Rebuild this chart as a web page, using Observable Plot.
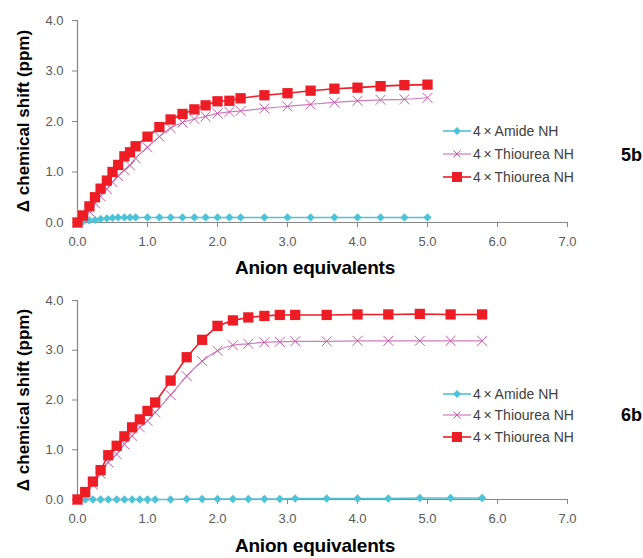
<!DOCTYPE html>
<html>
<head>
<meta charset="utf-8">
<script src="https://cdn.jsdelivr.net/npm/d3@7"></script>
<script src="https://cdn.jsdelivr.net/npm/@observablehq/plot@0.6"></script>
<style>
  body { margin: 0; background: #fff; font-family: "Liberation Sans", Arial, sans-serif; }
  #wrap { position: relative; width: 643px; height: 558px; overflow: hidden; }
  .panel { position: absolute; left: 0; width: 643px; height: 279px; }
  .xtitle { position: absolute; left: 0; width: 630px; text-align: center; font-weight: bold; font-size: 19px; line-height: 22px; color: #000; letter-spacing: -0.2px; }
  .ytitle { position: absolute; font-weight: bold; font-size: 17px; color: #000; white-space: nowrap; transform: translate(-50%, -50%) rotate(-90deg); }
  .legend { position: absolute; left: 443px; font-size: 14px; color: #404040; }
  .legend .row { display: flex; align-items: center; height: 23px; }
  .legend svg { display: block; margin-right: 0; }
  .tag { position: absolute; left: 621px; font-weight: bold; font-size: 18px; line-height: 20px; color: #000; }
</style>
</head>
<body>
<div id="wrap"></div>
<script>
// ---- data ----
const seriesNames = ["4\u2009\u00d7\u2009Amide NH", "4\u2009\u00d7\u2009Thiourea NH", "4\u2009\u00d7\u2009Thiourea NH"];
const xTicks = [0, 1, 2, 3, 4, 5, 6, 7];
const yTicks = [0, 1, 2, 3, 4];

// Panel 5b
const eq5 = [0, 0.08, 0.17, 0.25, 0.33, 0.42, 0.5, 0.58, 0.67, 0.75, 0.83, 1.0, 1.17, 1.33, 1.5, 1.67, 1.83, 2.0, 2.17, 2.33, 2.67, 3.0, 3.33, 3.67, 4.0, 4.33, 4.67, 5.0];
const amide5 = [0, 0.02, 0.04, 0.05, 0.07, 0.08, 0.09, 0.1, 0.1, 0.1, 0.1, 0.1, 0.1, 0.1, 0.1, 0.1, 0.1, 0.1, 0.1, 0.1, 0.1, 0.1, 0.1, 0.1, 0.1, 0.1, 0.1, 0.1];
const thioA5 = [0, 0.08, 0.22, 0.38, 0.52, 0.66, 0.80, 0.92, 1.04, 1.13, 1.27, 1.49, 1.70, 1.87, 1.98, 2.05, 2.10, 2.16, 2.19, 2.21, 2.26, 2.30, 2.34, 2.38, 2.41, 2.43, 2.44, 2.47];
const thioB5 = [0, 0.14, 0.32, 0.50, 0.67, 0.83, 1.0, 1.14, 1.31, 1.39, 1.51, 1.70, 1.89, 2.04, 2.15, 2.24, 2.32, 2.40, 2.41, 2.46, 2.52, 2.56, 2.61, 2.65, 2.67, 2.70, 2.72, 2.73];

// Panel 6b
const eq6 = [0, 0.11, 0.22, 0.33, 0.44, 0.56, 0.67, 0.78, 0.89, 1.0, 1.11, 1.33, 1.56, 1.78, 2.0, 2.22, 2.44, 2.67, 2.89, 3.11, 3.56, 4.0, 4.44, 4.89, 5.33, 5.78];
const amide6 = [0, 0, 0, 0, 0, 0, 0, 0, 0, 0, 0, 0, 0.01, 0.01, 0.01, 0.01, 0.01, 0.01, 0.01, 0.02, 0.02, 0.02, 0.02, 0.03, 0.03, 0.03];
const thioA6 = [0, 0.10, 0.30, 0.52, 0.75, 0.91, 1.11, 1.28, 1.45, 1.58, 1.75, 2.10, 2.48, 2.78, 2.99, 3.10, 3.13, 3.16, 3.17, 3.18, 3.18, 3.19, 3.19, 3.19, 3.19, 3.19];
const thioB6 = [0, 0.15, 0.36, 0.59, 0.89, 1.08, 1.27, 1.45, 1.61, 1.78, 1.95, 2.39, 2.86, 3.21, 3.49, 3.60, 3.66, 3.69, 3.71, 3.71, 3.71, 3.72, 3.72, 3.73, 3.72, 3.72];

// ---- styles ----
const CYAN = "#4cc3d6";
const MAG = "#c95aab";
const MAGLINE = "#d27cbd";
const RED = "#ee1c25";
const AXIS = "#868686";
const fmt = d3.format(".1f");

function chart(xs, amide, thioA, thioB, mt, mb) {
  const rows = xs.map((x, i) => ({x, a: amide[i], b: thioA[i], c: thioB[i]}));
  return Plot.plot({
    width: 643, height: 279,
    marginLeft: 77, marginRight: 76, marginTop: mt, marginBottom: mb,
    style: {fontFamily: "'Liberation Sans', Arial, sans-serif", fontSize: "13px", color: "#595959", background: "white", overflow: "visible"},
    x: {domain: [0, 7], label: null},
    y: {domain: [0, 4], label: null},
    marks: [
      Plot.axisX({ticks: xTicks, tickFormat: fmt, tickSize: 5, tickPadding: 9, stroke: AXIS, label: null}),
      Plot.axisY({ticks: yTicks, tickFormat: fmt, tickSize: 5, tickPadding: 9, stroke: AXIS, label: null}),
      Plot.ruleY([0], {stroke: AXIS, strokeWidth: 1.2}),
      Plot.ruleX([0], {stroke: AXIS, strokeWidth: 1.2}),
      Plot.line(rows, {x: "x", y: "a", stroke: CYAN, strokeWidth: 1.6}),
      Plot.dot(rows, {x: "x", y: "a", symbol: "square", rotate: 45, r: 3.3, fill: CYAN, stroke: "none"}),
      Plot.line(rows, {x: "x", y: "b", stroke: MAGLINE, strokeWidth: 1.2, curve: "monotone-x"}),
      Plot.dot(rows, {x: "x", y: "b", symbol: "times", r: 4.6, stroke: MAG, strokeWidth: 1, fill: "none"}),
      Plot.line(rows, {x: "x", y: "c", stroke: RED, strokeWidth: 1.6}),
      Plot.dot(rows, {x: "x", y: "c", symbol: "square", r: 5.8, fill: RED, stroke: "none"})
    ]
  });
}

function legendSvg(kind) {
  const ns = "http://www.w3.org/2000/svg";
  const s = document.createElementNS(ns, "svg");
  s.setAttribute("width", "30"); s.setAttribute("height", "12");
  const col = kind === 0 ? CYAN : kind === 1 ? MAGLINE : RED;
  const ln = document.createElementNS(ns, "line");
  ln.setAttribute("x1", "0"); ln.setAttribute("x2", "28"); ln.setAttribute("y1", "6"); ln.setAttribute("y2", "6");
  ln.setAttribute("stroke", col); ln.setAttribute("stroke-width", kind === 1 ? "1.2" : "1.6");
  s.appendChild(ln);
  const p = document.createElementNS(ns, "path");
  if (kind === 0) { p.setAttribute("d", "M14,2L18,6L14,10L10,6Z"); p.setAttribute("fill", CYAN); }
  else if (kind === 1) { p.setAttribute("d", "M10.5,2.5L17.5,9.5M17.5,2.5L10.5,9.5"); p.setAttribute("stroke", MAG); p.setAttribute("fill", "none"); }
  else { p.setAttribute("d", "M9,1H19V11H9Z"); p.setAttribute("fill", RED); }
  s.appendChild(p);
  return s;
}

function panel(top, plot, legendTop, rowH, tag, tagTop, xTitleTop, yCenter) {
  const wrap = document.getElementById("wrap");
  const div = document.createElement("div");
  div.className = "panel"; div.style.top = top + "px";
  div.appendChild(plot);
  wrap.appendChild(div);

  const lg = document.createElement("div");
  lg.className = "legend"; lg.style.top = legendTop + "px";
  seriesNames.forEach((name, i) => {
    const r = document.createElement("div"); r.className = "row"; r.style.height = rowH + "px";
    r.appendChild(legendSvg(i));
    const t = document.createElement("span"); t.textContent = name;
    r.appendChild(t);
    lg.appendChild(r);
  });
  wrap.appendChild(lg);

  const tg = document.createElement("div");
  tg.className = "tag"; tg.style.top = tagTop + "px"; tg.textContent = tag;
  wrap.appendChild(tg);

  const xt = document.createElement("div");
  xt.className = "xtitle"; xt.style.top = xTitleTop + "px"; xt.textContent = "Anion equivalents";
  wrap.appendChild(xt);

  const yt = document.createElement("div");
  yt.className = "ytitle"; yt.style.left = "24px"; yt.style.top = yCenter + "px";
  yt.textContent = "\u0394 chemical shift (ppm)";
  wrap.appendChild(yt);
}

panel(0, chart(eq5, amide5, thioA5, thioB5, 20, 57), 119.5, 23, "5b", 145, 257, 121);
panel(279, chart(eq6, amide6, thioA6, thioB6, 21, 59), 383, 21.5, "6b", 405, 535, 400);
</script>
</body>
</html>
